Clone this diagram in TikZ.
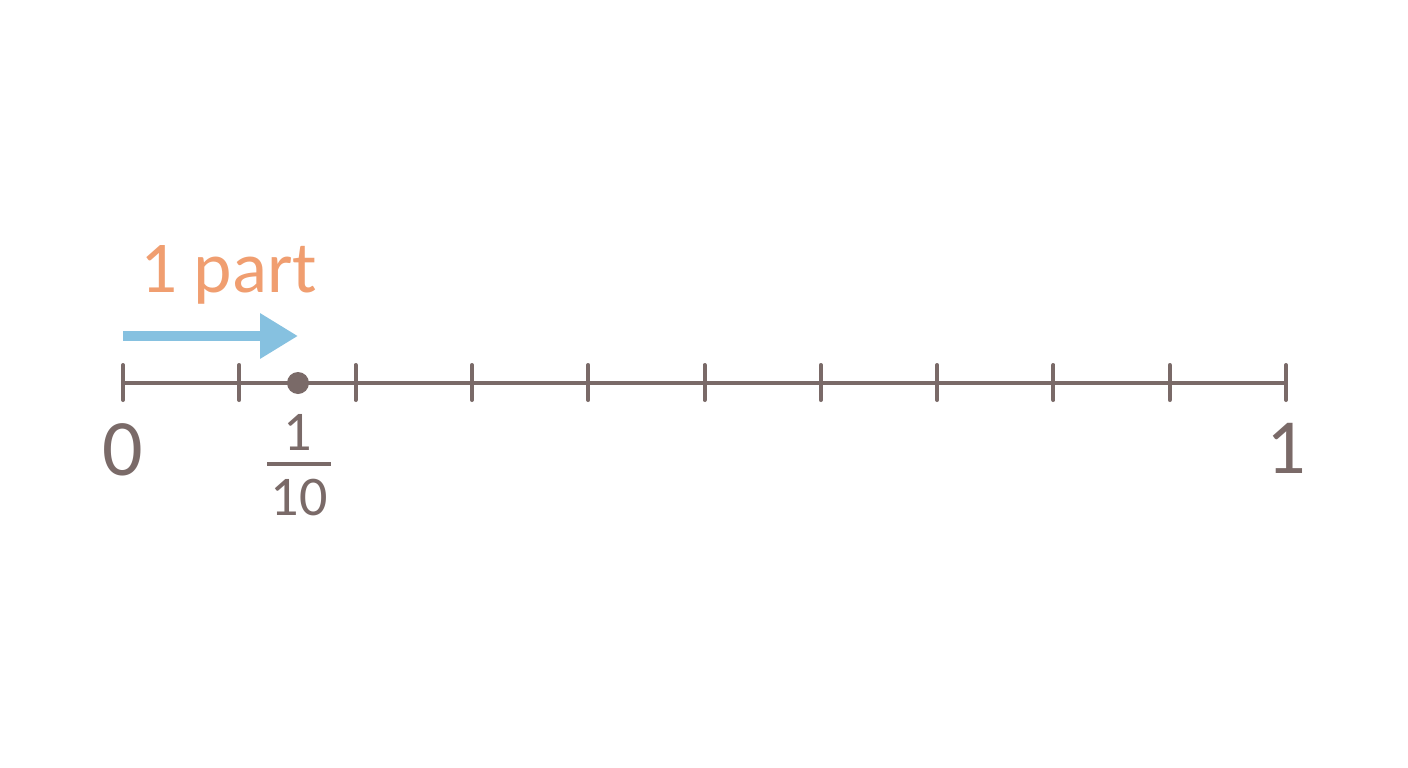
\documentclass[tikz,border=0pt]{standalone}
\usepackage{fontspec}
\setmainfont{Carlito}
\usetikzlibrary{arrows.meta}
\definecolor{axis}{RGB}{122,106,104}
\definecolor{lbl}{RGB}{240,158,112}
\definecolor{arr}{RGB}{134,193,224}
\begin{document}
\begin{tikzpicture}[x=1pt,y=-1pt,
  axisline/.style={draw=axis,line width=4pt},
  tickmark/.style={draw=axis,line width=4pt,line cap=round},
  numlbl/.style={text=axis,inner sep=0pt,anchor=base},
  partarrow/.style={draw=arr,line width=10pt,-{Triangle[length=38pt,width=43pt]}}]
\useasboundingbox[fill=white] (0,0) rectangle (1408,768);
\coordinate (a0) at (123,383);
\coordinate (a1) at (1286,383);
\draw[axisline] (a0) -- (a1);
\foreach \i in {0,...,10}{
  \coordinate (t\i) at ({123+116.3*\i},383);
  \draw[tickmark] ([yshift=-17pt]t\i) -- ([yshift=18pt]t\i);
}
\fill[axis] (298,383) circle (11pt);
\coordinate (s) at (123,336);
\coordinate (e) at (298,336);
\draw[partarrow] (s) -- (e);
\node[text=lbl,inner sep=0pt,anchor=base west,font=\fontsize{73}{73}\selectfont] (part) at (140,292) {1 part};
\node[numlbl,font=\fontsize{80}{80}\selectfont] (zero) at (123,475) {0};
\node[numlbl,font=\fontsize{78}{78}\selectfont] (one) at (1286,473) {1};
\node[numlbl,font=\fontsize{56}{56}\selectfont] (num) at (298,450) {1};
\coordinate (b1) at (267,464);
\coordinate (b2) at (331,464);
\draw[draw=axis,line width=3.5pt] (b1) -- (b2);
\node[numlbl,font=\fontsize{56}{56}\selectfont] (den) at (299,515) {10};
\end{tikzpicture}
\end{document}
